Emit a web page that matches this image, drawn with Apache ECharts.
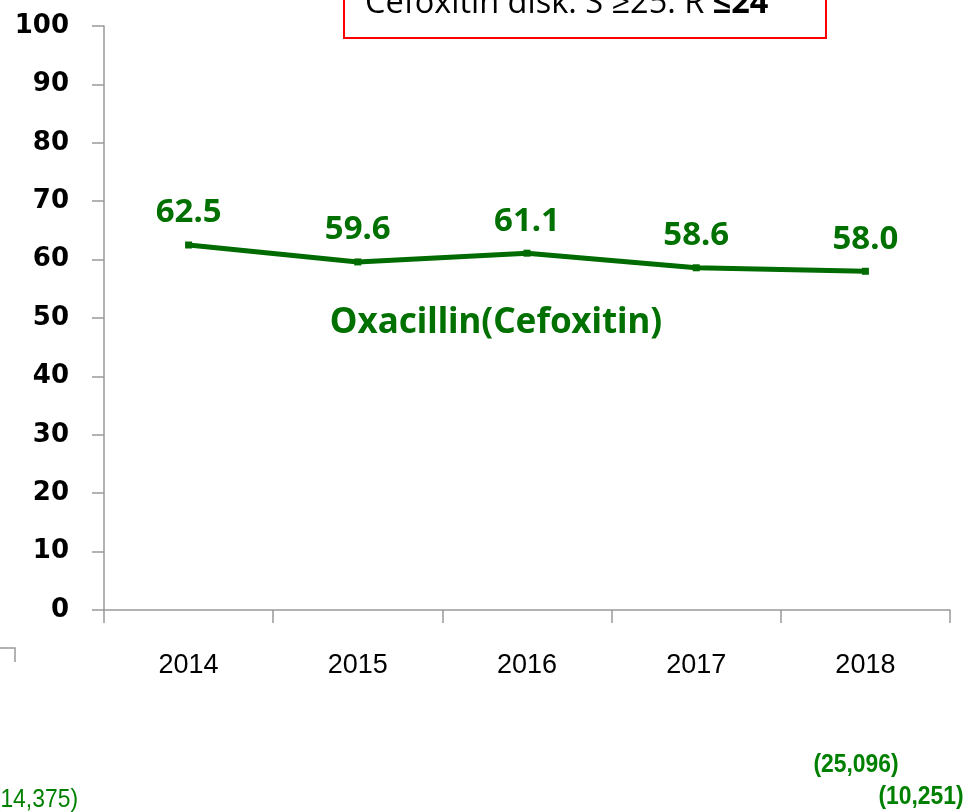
<!DOCTYPE html>
<html>
<head>
<meta charset="utf-8">
<script src="https://cdn.jsdelivr.net/npm/echarts@6/dist/echarts.min.js"></script>
<style>
  html, body { margin: 0; padding: 0; background: #fff; }
  #chart { width: 970px; height: 812px; }
</style>
</head>
<body>
<div id="chart"></div>
<script>
// 年份
const years = ["2014", "2015", "2016", "2017", "2018"];
// 耐药率 (%)
const oxaRate = [62.5, 59.6, 61.1, 58.6, 58.0];
const seriesName = "Oxacillin(Cefoxitin)";
const boxText = ["Cefoxitin disk: S \u226525. R ", "\u226424"];
// 底部样本数
const isolatesLeft = "(14,375)";
const isolatesRight = ["(25,096)", "(10,251)"];

const green = "#006b00";
const chart = echarts.init(document.getElementById("chart"));

// 窄体字: 用 Liberation Sans 横向压缩
function narrowText(text, x, y, bold, align) {
  return {
    type: "text",
    x: x,
    y: y,
    scaleX: 0.88,
    style: {
      text: text,
      fill: "#008000",
      fontFamily: "Liberation Sans",
      fontWeight: bold ? "bold" : "normal",
      fontSize: 26,
      align: align,
      verticalAlign: "middle"
    }
  };
}

const option = {
  animation: false,
  grid: { left: 104, right: 20, top: 26, bottom: 202 },
  xAxis: {
    type: "category",
    data: years,
    boundaryGap: true,
    axisLine: { lineStyle: { color: "#999", width: 1.5 } },
    axisTick: { show: true, length: 13, lineStyle: { color: "#999", width: 1.5 } },
    axisLabel: { color: "#000", fontFamily: "Liberation Sans", fontSize: 27, margin: 42 }
  },
  yAxis: {
    type: "value",
    min: 0,
    max: 100,
    interval: 10,
    splitLine: { show: false },
    axisLine: { show: true, lineStyle: { color: "#999", width: 1.5 } },
    axisTick: { show: true, length: 12, lineStyle: { color: "#999", width: 1.5 } },
    axisLabel: { color: "#000", fontFamily: "DejaVu Sans", fontWeight: "bold", fontSize: 26, margin: 35 }
  },
  series: [
    {
      name: seriesName,
      type: "line",
      data: oxaRate,
      symbol: "rect",
      symbolSize: 7,
      itemStyle: { color: green },
      lineStyle: { color: green, width: 5 },
      label: {
        show: true,
        position: "top",
        distance: 12,
        formatter: p => p.value.toFixed(1),
        color: "#007000",
        fontFamily: "Noto Sans",
        fontWeight: "bold",
        fontSize: 33
      }
    }
  ],
  graphic: [
    // 红框说明
    {
      type: "rect",
      shape: { x: 344, y: -20, width: 482, height: 58 },
      style: { fill: "#fff", stroke: "#ff0000", lineWidth: 2 }
    },
    {
      type: "text",
      left: 365,
      top: -13,
      style: {
        text: "{n|" + boxText[0] + "}{b|" + boxText[1] + "}",
        rich: {
          n: { fontFamily: "Open Sans", fontSize: 32.5, fill: "#000" },
          b: { fontFamily: "Open Sans", fontSize: 32.5, fontWeight: "bold", fill: "#000" }
        }
      }
    },
    // 系列名
    {
      type: "text",
      x: 496,
      y: 323,
      style: {
        text: seriesName,
        fill: "#007000",
        fontFamily: "Noto Sans",
        fontWeight: "bold",
        fontSize: 35,
        align: "center",
        verticalAlign: "middle"
      }
    },
    // 左下角残线
    {
      type: "polyline",
      shape: { points: [[0, 648], [15, 648], [15, 662]] },
      style: { stroke: "#999", lineWidth: 1.5, fill: null }
    },
    narrowText(isolatesLeft, 78, 800, false, "right"),
    narrowText(isolatesRight[0], 856, 765, true, "center"),
    narrowText(isolatesRight[1], 921, 797, true, "center")
  ]
};

chart.setOption(option);
</script>
</body>
</html>
